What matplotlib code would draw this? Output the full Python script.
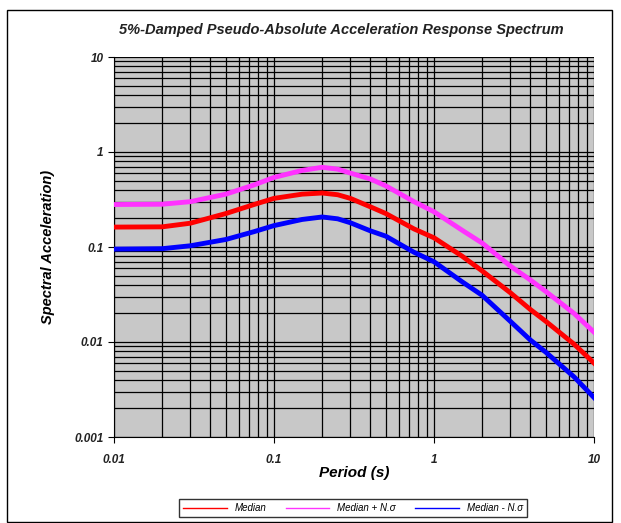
import matplotlib
matplotlib.use("Agg")
import matplotlib.pyplot as plt
from matplotlib.patches import Rectangle

# spectral periods (s)
periods = [0.01, 0.02, 0.03, 0.05, 0.075, 0.1, 0.15, 0.2, 0.25, 0.3, 0.4,
           0.5, 0.75, 1.0, 1.5, 2.0, 3.0, 4.0, 5.0, 7.5, 10.0]

# spectral acceleration (g)
sa_median = [0.162, 0.163, 0.178, 0.225, 0.28, 0.325, 0.36, 0.37, 0.355, 0.325, 0.265,
             0.225, 0.155, 0.125, 0.08, 0.056, 0.033, 0.022, 0.0165, 0.0095, 0.006]
sa_plus = [0.28, 0.282, 0.30, 0.36, 0.45, 0.54, 0.64, 0.69, 0.66, 0.60, 0.52,
           0.44, 0.30, 0.235, 0.15, 0.11, 0.063, 0.045, 0.034, 0.02, 0.0127]
sa_minus = [0.095, 0.096, 0.103, 0.12, 0.145, 0.168, 0.195, 0.207, 0.198, 0.18, 0.148,
            0.13, 0.088, 0.07, 0.043, 0.031, 0.0165, 0.0105, 0.0078, 0.0043, 0.0026]

x_ticks = [0.01, 0.1, 1, 10]
x_ticklabels = ['0.01', '0.1', '1', '10']
y_ticks = [0.001, 0.01, 0.1, 1, 10]
y_ticklabels = ['0.001', '0.01', '0.1', '1', '10']

plt.rcParams['font.family'] = ['Liberation Sans', 'DejaVu Sans']

fig = plt.figure(figsize=(6.21, 5.23), dpi=100)
fig.patches.append(Rectangle((7 / 621, 1 / 523), 605 / 621, 512 / 523,
                             transform=fig.transFigure, fill=False,
                             edgecolor='black', linewidth=1.0))

ax = fig.add_axes([114 / 621, 1 - 437 / 523, 480 / 621, 380 / 523])
ax.set_facecolor('#c8c8c8')

ax.plot(periods, sa_median, color='#ff0000', linewidth=3.5, label='Median', zorder=4)
ax.plot(periods, sa_plus, color='#ff33ff', linewidth=3.5, label='Median + N.\u03c3', zorder=4)
ax.plot(periods, sa_minus, color='#0000ff', linewidth=3.5, label='Median - N.\u03c3', zorder=4)

ax.set_xscale('log')
ax.set_yscale('log')
ax.set_xlim(0.01, 10)
ax.set_ylim(0.001, 10)

ax.grid(which='both', color='black', linewidth=0.9)
ax.set_axisbelow(True)

ax.set_xticks(x_ticks)
ax.set_xticklabels(x_ticklabels)
ax.set_yticks(y_ticks)
ax.set_yticklabels(y_ticklabels)
ax.tick_params(which='minor', length=0)
ax.tick_params(which='major', length=4, width=0.8, direction='out')
ax.tick_params(axis='x', pad=8)
for lbl in ax.get_xticklabels() + ax.get_yticklabels():
    lbl.set_fontsize(8.5)
    lbl.set_fontweight('bold')
    lbl.set_fontstyle('italic')
    lbl.set_color('#222222')

for side in ['top', 'right']:
    ax.spines[side].set_visible(False)

ax.set_xlabel('Period (s)', fontsize=11, fontweight='bold', fontstyle='italic', labelpad=0)
ax.set_ylabel('Spectral Acceleration)', fontsize=10.5, fontweight='bold', fontstyle='italic',
              labelpad=14)

fig.text(341 / 621, 1 - 30 / 523, '5%-Damped Pseudo-Absolute Acceleration Response Spectrum',
         ha='center', va='center', fontsize=10.5, fontweight='bold', fontstyle='italic',
         color='#222222')

handles, labels = ax.get_legend_handles_labels()
leg = fig.legend(handles, labels, loc='center', bbox_to_anchor=(353 / 621, 1 - 508 / 523),
                 ncol=3, frameon=True, fancybox=False, edgecolor='black',
                 prop={'size': 7, 'style': 'italic'}, handlelength=4.5,
                 columnspacing=2.0, borderpad=0.4)
leg.get_frame().set_linewidth(1.0)
for line in leg.get_lines():
    line.set_linewidth(1.0)

fig.savefig('out.png', dpi=100)
